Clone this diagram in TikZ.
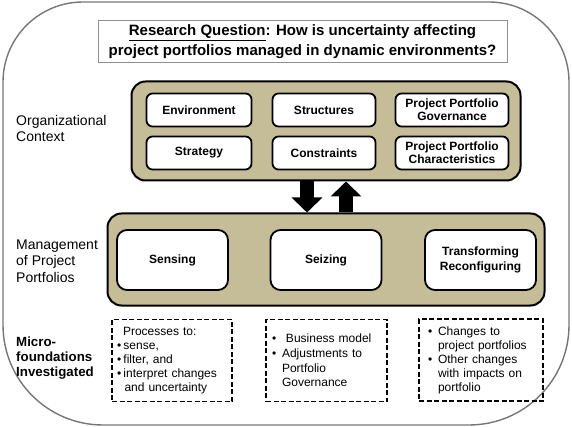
\documentclass[tikz,border=0pt]{standalone}
\usepackage{fontspec}
\setmainfont{Liberation Sans}
\usetikzlibrary{arrows.meta}
\definecolor{tanfill}{HTML}{C4BD97}
\definecolor{framegray}{HTML}{767676}
\newcommand{\bul}[1]{\makebox[#1][l]{\textbullet}}
\begin{document}
\begin{tikzpicture}[x=1pt,y=-1pt,
  framestyle/.style={draw=framegray, line width=1.4pt},
  rqbox/.style={draw=framegray!80, line width=1pt, fill=white, align=center, inner sep=0pt,
    font=\fontsize{15}{20}\selectfont\bfseries},
  tanbox/.style={draw=black, line width=2pt, fill=tanfill, rounded corners=14pt, inner sep=0pt},
  topitem/.style={draw=black, line width=1.8pt, fill=white, rounded corners=6pt,
    minimum height=33pt, align=center, inner sep=0pt,
    font=\fontsize{12}{13}\selectfont\bfseries},
  miditem/.style={draw=black, line width=1.8pt, fill=white, rounded corners=10pt,
    minimum width=111pt, minimum height=60pt, align=center, inner sep=0pt,
    font=\fontsize{12}{15}\selectfont\bfseries},
  dashbox/.style={draw=black, line width=1.7pt, dash pattern=on 5pt off 2.5pt,
    minimum height=82pt, align=left, inner ysep=0pt,
    font=\fontsize{12}{14}\selectfont},
  sidelabel/.style={anchor=west, align=left, inner sep=0pt,
    font=\fontsize{14}{16.5}\selectfont},
  sidelabelb/.style={anchor=west, align=left, inner sep=0pt,
    font=\fontsize{13.3}{15}\selectfont\bfseries},
  blockarr/.style={draw=black, line width=14pt, -{Triangle[width=30pt,length=15pt]}}
]
\useasboundingbox (0,0) rectangle (572,427);
% outer frame
\draw[framestyle] (3,200) [rounded corners=80pt] -- (3,2) -- (569,2) -- (569,200)
  [rounded corners=100pt] -- (569,425) -- (3,425) -- (3,200) -- cycle;

% research question
\node[rqbox, minimum width=409pt, minimum height=42pt] (rq) at (302.5,42)
  {\underline{Research Question}: How is uncertainty affecting\\project portfolios managed in dynamic environments?};

% organizational context
\node[tanbox, minimum width=389pt, minimum height=99pt] (ctx) at (326,131) {};
\node[topitem, minimum width=105pt] (env) at (199,110) {Environment};
\node[topitem, minimum width=103pt] (struc) at (324,110) {Structures};
\node[topitem, minimum width=113pt] (ppg) at (452,110) {Project Portfolio\\Governance};
\node[topitem, minimum width=105pt] (strat) at (199,153) {Strategy};
\node[topitem, minimum width=103pt] (cons) at (324,153) {Constraints};
\node[topitem, minimum width=113pt] (ppc) at (452,153) {Project Portfolio\\Characteristics};

% management
\node[tanbox, minimum width=437pt, minimum height=92pt] (mgmt) at (326,259.5) {};
\node[miditem] (sens) at (172.5,260) {Sensing};
\node[miditem] (seiz) at (326,260) {Seizing};
\node[miditem] (trans) at (480.5,260) {Transforming\\Reconfiguring};

% arrows
\draw[blockarr] ([xshift=-19pt]ctx.south) -- ([xshift=-19pt]mgmt.north);
\draw[blockarr] ([xshift=20pt]mgmt.north) -- ([xshift=20pt]ctx.south);

% side labels
\node[sidelabel] (lab1) at (16,128.5) {Organizational\\Context};
\node[sidelabel] (lab2) at (16,261) {Management\\of Project\\Portfolios};
\node[sidelabelb] (lab3) at (16,358) {Micro-\\foundations\\Investigated};

% micro-foundations
\node[dashbox, text width=110pt, inner xsep=5pt] (mf1) at (172,360.5)
  {\hspace*{6pt}Processes to:\\
   \bul{6.5pt}sense,\\
   \bul{6.5pt}filter, and\\
   \bul{6.5pt}interpret changes\\
   \hspace*{7.5pt}and uncertainty};
\node[dashbox, text width=109pt, inner xsep=6pt, font=\fontsize{12}{14.6}\selectfont] (mf2) at (326.5,360.5)
  {\bul{14pt}Business model\\
   \bul{10pt}Adjustments to\\
   \hspace*{10pt}Portfolio\\
   \hspace*{10pt}Governance};
\node[dashbox, text width=106pt, inner xsep=9pt] (mf3) at (481,360)
  {\bul{10pt}Changes to\\
   \hspace*{10pt}project portfolios\\
   \bul{10pt}Other changes\\
   \hspace*{10pt}with impacts on\\
   \hspace*{10pt}portfolio};
\end{tikzpicture}
\end{document}
